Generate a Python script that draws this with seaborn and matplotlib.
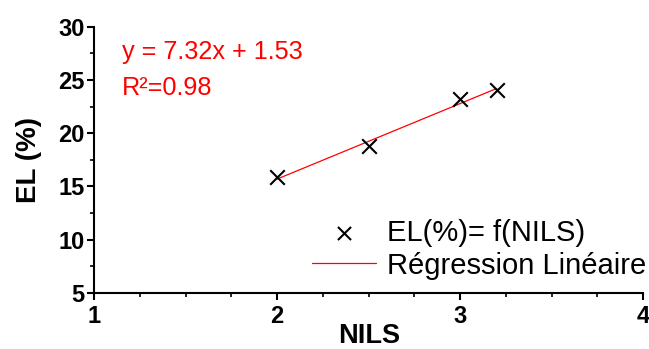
import numpy as np
import pandas as pd
import seaborn as sns
import matplotlib.pyplot as plt

# values
nils = [2.0, 2.5, 3.0, 3.2]
el_pct = [15.9, 18.75, 23.2, 24.05]
eq_text = "y = 7.32x + 1.53"
r2_text = "R²=0.98"
x_ticks = [1, 2, 3, 4]
y_ticks = [5, 10, 15, 20, 25, 30]

df = pd.DataFrame({"NILS": nils, "EL": el_pct})
slope, intercept = np.polyfit(df["NILS"], df["EL"], 1)
fit = pd.DataFrame({"NILS": [min(nils), max(nils)]})
fit["EL"] = slope * fit["NILS"] + intercept

rc = {
    "xtick.color": "black",
    "ytick.color": "black",
    "text.color": "black",
    "axes.labelcolor": "black",
    "axes.edgecolor": "black",
}
sns.set_theme(style="ticks", rc=rc)
plt.rcParams["font.family"] = ["Liberation Sans", "DejaVu Sans"]
# tick labels and axis titles are bold, the rest is set back to normal below
plt.rcParams["font.weight"] = "bold"

fig = plt.figure(figsize=(6.49, 3.49), dpi=100)
ax = fig.add_axes([0.145, 0.161, 0.846, 0.7625])

sns.scatterplot(data=df, x="NILS", y="EL", marker="x", s=110, color="black",
                linewidth=1.5, label="EL(%)= f(NILS)", ax=ax, zorder=3)
sns.lineplot(data=fit, x="NILS", y="EL", color="red", linewidth=0.9,
             label="Régression Linéaire", ax=ax)

ax.set_xlim(1, 4)
ax.set_ylim(5, 30)
ax.set_xticks(x_ticks, labels=[str(t) for t in x_ticks])
ax.set_yticks(y_ticks, labels=[str(t) for t in y_ticks])
ax.set_xticks(np.arange(1, 4, 0.25), minor=True)
ax.set_yticks(np.arange(5, 30, 2.5), minor=True)
ax.tick_params(which="major", length=5, width=1.5, direction="out", labelsize=17)
ax.tick_params(which="minor", length=3, width=1.2, direction="out")
ax.tick_params(axis="x", pad=4)
ax.tick_params(axis="y", pad=2)

for side in ["top", "right"]:
    ax.spines[side].set_visible(False)
for side in ["left", "bottom"]:
    ax.spines[side].set_linewidth(1.5)

ax.set_xlabel("NILS", fontsize=19.5, fontweight="bold", va="baseline")
ax.xaxis.set_label_coords(0.5, -0.19)
ax.set_ylabel("EL (%)", fontsize=20, fontweight="bold")
ax.yaxis.set_label_coords(-0.094, 0.5)

ax.text(0.051, 0.877, eq_text, transform=ax.transAxes, color="red",
        fontsize=18.2, fontweight="normal", va="baseline", ha="left")
ax.text(0.051, 0.742, r2_text, transform=ax.transAxes, color="red",
        fontsize=18.2, fontweight="normal", va="baseline", ha="left")

ax.legend(loc="lower right", bbox_to_anchor=(1.005, 0.05), frameon=False,
          prop={"size": 21, "weight": "normal"}, handlelength=2.2,
          handletextpad=0.35, labelspacing=0.15, borderpad=0,
          borderaxespad=0, markerscale=0.9)

fig.savefig("out.png", dpi=100)
